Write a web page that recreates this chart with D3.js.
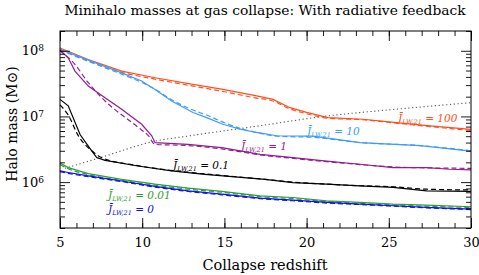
<!DOCTYPE html>
<meta charset="utf-8">
<style>
body { margin: 0; background: #fff; }
text { font-family: "DejaVu Serif", serif; }
</style>
<svg width="479" height="275"></svg>
<script src="https://cdn.jsdelivr.net/npm/d3@7/dist/d3.min.js"></script>
<script>
// collapse redshift vs halo mass (Msun)
var zJ100 = [5, 6.72, 8.75, 10.78, 13.09, 14.91, 16.96, 17.96, 18.99, 20.0, 21.3, 23.43, 25.48, 27.5, 30];
var mJ100 = [1.1e8, 7.35e7, 4.9e7, 3.88e7, 3.07e7, 2.58e7, 2.05e7, 1.82e7, 1.36e7, 1.15e7, 9.6e6, 9.06e6, 8.07e6, 7.2e6, 6.35e6];
var mJ100d = [1.05e8, 7.1e7, 4.7e7, 3.7e7, 2.9e7, 2.4e7, 1.9e7, 1.72e7, 1.3e7, 1.1e7, 9.4e6, 8.9e6, 7.9e6, 7.0e6, 6.1e6];

var zJ10 = [5, 6.72, 8.75, 9.97, 10.78, 11.79, 13.09, 13.92, 14.91, 15.95, 16.96, 18.18, 20.39, 23.25, 26.9, 30];
var mJ10 = [1.05e8, 7.2e7, 4.6e7, 3.46e7, 2.58e7, 1.72e7, 1.15e7, 9.6e6, 7.6e6, 6.4e6, 5.7e6, 5.08e6, 5.0e6, 3.98e6, 3.6e6, 2.97e6];
var mJ10d = [1.02e8, 6.9e7, 4.4e7, 3.3e7, 2.6e7, 1.8e7, 1.25e7, 1.05e7, 8.2e6, 6.6e6, 5.7e6, 5.0e6, 4.8e6, 4.0e6, 3.6e6, 3.0e6];

var zJ1 = [5, 5.5, 5.91, 6.72, 7.74, 8.75, 9.97, 10.58, 10.78, 12.79, 14.84, 17.17, 19.17, 21.22, 23.25, 25.26, 27.3, 28.7, 30];
var mJ1 = [1.02e8, 7.8e7, 4.9e7, 2.9e7, 1.93e7, 1.29e7, 7.6e6, 5.08e6, 3.98e6, 3.75e6, 3.34e6, 2.64e6, 2.36e6, 2.09e6, 1.87e6, 1.66e6, 1.66e6, 1.57e6, 1.53e6];
var zJ1d = [5, 5.91, 6.72, 7.54, 9.76, 10.37, 10.78, 12.79, 14.84, 17.17, 19.17, 21.22, 23.25, 25.26, 27.3, 30];
var mJ1d = [1.0e8, 6.2e7, 3.26e7, 1.93e7, 6.8e6, 5.1e6, 3.75e6, 3.6e6, 3.2e6, 2.6e6, 2.3e6, 2.05e6, 1.85e6, 1.7e6, 1.65e6, 1.62e6];

var zJ01 = [5, 5.5, 6.22, 6.72, 7.23, 7.74, 9.74, 11.79, 13.82, 15.83, 17.47, 19.17, 21.22, 23.25, 25.26, 27.3, 30];
var mJ01 = [1.82e7, 1.45e7, 5.3e6, 3.53e6, 2.36e6, 2.14e6, 1.76e6, 1.48e6, 1.31e6, 1.19e6, 1.1e6, 9.8e5, 9.3e5, 8.75e5, 8.3e5, 7.35e5, 7.2e5];
var zJ01d = [5, 5.5, 6.11, 6.93, 7.54, 9.74, 11.79, 13.82, 15.83, 17.47, 19.17, 21.22, 23.25, 25.26, 27.3, 30];
var mJ01d = [1.5e7, 1.05e7, 5.1e6, 3.0e6, 2.35e6, 1.78e6, 1.5e6, 1.33e6, 1.2e6, 1.1e6, 1.0e6, 9.3e5, 8.8e5, 8.5e5, 7.8e5, 7.6e5];

var zLow = [5, 5.5, 6.72, 8.75, 10.78, 12.8, 14.84, 17.17, 19.17, 21.22, 23.25, 25.26, 27.3, 30];
var mJ001 = [1.95e6, 1.66e6, 1.35e6, 1.1e6, 9.3e5, 8.1e5, 7.2e5, 6.17e5, 5.83e5, 5.19e5, 4.91e5, 4.62e5, 4.47e5, 4.21e5];
var mJ001d = [1.85e6, 1.6e6, 1.3e6, 1.06e6, 9.0e5, 7.8e5, 7.0e5, 6.0e5, 5.6e5, 5.05e5, 4.75e5, 4.5e5, 4.3e5, 4.1e5];
var mJ0 = [1.48e6, 1.4e6, 1.24e6, 1.04e6, 8.6e5, 7.35e5, 6.55e5, 5.7e5, 5.3e5, 4.9e5, 4.62e5, 4.36e5, 4.12e5, 3.88e5];
var mJ0d = [1.44e6, 1.36e6, 1.21e6, 1.02e6, 8.4e5, 7.2e5, 6.4e5, 5.6e5, 5.2e5, 4.8e5, 4.55e5, 4.3e5, 4.05e5, 3.82e5];

var zDot = [5.3, 7.5, 10.78, 12.91, 16.96, 21.3, 25.48, 30];
var mDot = [1.62e6, 2.38e6, 4.2e6, 5.08e6, 7.1e6, 1.02e7, 1.29e7, 1.62e7];

var labelJ = ["100", "10", "1", "0.1", "0.01", "0"];

var svg = d3.select("svg");
var L = 60, R = 471, T = 31, B = 228;

var x = d3.scaleLinear().domain([5, 30]).range([L, R]);
var y = d3.scaleLog().domain([2e5, 2e8]).range([B, T]);

function pts(zs, ms) { return zs.map(function(z, i) { return [z, ms[i]]; }); }
var line = d3.line().x(function(d) { return x(d[0]); }).y(function(d) { return y(d[1]); });
var smooth = d3.line().curve(d3.curveMonotoneX).x(function(d) { return x(d[0]); }).y(function(d) { return y(d[1]); });

var series = [
  { zs: zJ100, ms: mJ100, dz: zJ100, dm: mJ100d, c: "#ff4f1f" },
  { zs: zJ10, ms: mJ10, dz: zJ10, dm: mJ10d, c: "#3d9bff" },
  { zs: zJ1, ms: mJ1, dz: zJ1d, dm: mJ1d, c: "#921c92" },
  { zs: zJ01, ms: mJ01, dz: zJ01d, dm: mJ01d, c: "#000" },
  { zs: zLow, ms: mJ001, dz: zLow, dm: mJ001d, c: "#2f9f2f" },
  { zs: zLow, ms: mJ0, dz: zLow, dm: mJ0d, c: "#1010f0" }
];

var plot = svg.append("g");
plot.append("path")
    .attr("d", smooth(pts(zDot, mDot)))
    .attr("fill", "none").attr("stroke", "#555").attr("stroke-width", 1.1)
    .attr("stroke-dasharray", "1.2,2.6");

series.forEach(function(s) {
  plot.append("path").attr("d", line(pts(s.zs, s.ms)))
      .attr("fill", "none").attr("stroke", s.c).attr("stroke-width", 1.2);
  plot.append("path").attr("d", smooth(pts(s.dz, s.dm)))
      .attr("fill", "none").attr("stroke", s.c).attr("stroke-width", 1.2)
      .attr("stroke-dasharray", "5,3");
});

// axes, ticks pointing inward
function xAxis(g, gen) { g.call(gen); g.select(".domain").remove(); }
var xMajor = [5, 10, 15, 20, 25, 30], xMinor = d3.range(5, 31);
svg.append("g").attr("transform", "translate(0," + B + ")")
    .call(function(g) { xAxis(g, d3.axisBottom(x).tickValues(xMinor).tickSize(-5).tickFormat("")); });
svg.append("g").attr("transform", "translate(0," + B + ")")
    .call(function(g) { xAxis(g, d3.axisBottom(x).tickValues(xMajor).tickSize(-10).tickPadding(10).tickFormat(d3.format("d"))); });
svg.append("g").attr("transform", "translate(0," + T + ")")
    .call(function(g) { xAxis(g, d3.axisTop(x).tickValues(xMinor).tickSize(-5).tickFormat("")); });
svg.append("g").attr("transform", "translate(0," + T + ")")
    .call(function(g) { xAxis(g, d3.axisTop(x).tickValues(xMajor).tickSize(-10).tickFormat("")); });

var yMajor = [1e6, 1e7, 1e8];
var yMinor = [];
[1e5, 1e6, 1e7, 1e8].forEach(function(p) { for (var k = 2; k <= 9; k++) if (p * k >= 2e5 && p * k <= 2e8) yMinor.push(p * k); });
svg.append("g").attr("transform", "translate(" + L + ",0)")
    .call(function(g) { xAxis(g, d3.axisLeft(y).tickValues(yMinor).tickSize(-5).tickFormat("")); });
svg.append("g").attr("transform", "translate(" + R + ",0)")
    .call(function(g) { xAxis(g, d3.axisRight(y).tickValues(yMinor).tickSize(-5).tickFormat("")); });
svg.append("g").attr("transform", "translate(" + R + ",0)")
    .call(function(g) { xAxis(g, d3.axisRight(y).tickValues(yMajor).tickSize(-10).tickFormat("")); });
var yl = svg.append("g").attr("transform", "translate(" + L + ",0)");
xAxis(yl, d3.axisLeft(y).tickValues(yMajor).tickSize(-10).tickPadding(16).tickFormat(""));
yl.selectAll(".tick text").each(function(d) {
  var t = d3.select(this).attr("font-size", 13).attr("fill", "#000");
  t.append("tspan").text("10");
  t.append("tspan").attr("dy", "-0.45em").attr("font-size", 9).text(Math.round(Math.log10(d)));
});
svg.selectAll(".tick line").attr("stroke", "#000").attr("stroke-width", 0.9);
svg.selectAll(".tick text").attr("font-family", "DejaVu Serif").attr("fill", "#000");
svg.selectAll("g").filter(function() { return this.getAttribute("font-size") == "10"; }).attr("font-size", 13);

svg.append("rect").attr("x", L).attr("y", T).attr("width", R - L).attr("height", B - T)
    .attr("fill", "none").attr("stroke", "#000").attr("stroke-width", 1);

// texts
svg.append("text").attr("x", 265).attr("y", 15).attr("text-anchor", "middle")
    .attr("font-size", 13.8).text("Minihalo masses at gas collapse: With radiative feedback");
svg.append("text").attr("x", 265).attr("y", 270).attr("text-anchor", "middle")
    .attr("font-size", 14.5).text("Collapse redshift");
svg.append("text").attr("transform", "translate(17,124) rotate(-90)").attr("text-anchor", "middle")
    .attr("font-size", 14).text("Halo mass (M\u2299)");

var labPos = [[398, 122], [307, 135], [241, 150], [173, 169], [108, 199], [108, 213]];
labelJ.forEach(function(v, i) {
  var t = svg.append("text").attr("x", labPos[i][0]).attr("y", labPos[i][1])
      .attr("fill", series[i].c).attr("font-size", 10.5).attr("font-style", "italic");
  t.append("tspan").text("J\u0304");
  t.append("tspan").attr("font-size", 6.5).attr("dy", 2).text("LW,21");
  t.append("tspan").attr("dy", -2).text(" = " + v);
});
</script>
